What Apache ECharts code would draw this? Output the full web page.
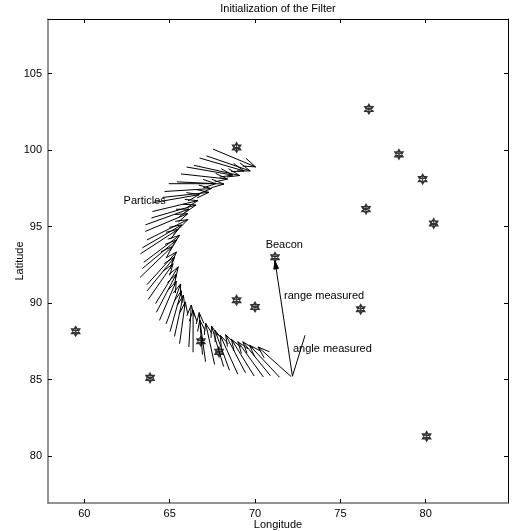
<!DOCTYPE html>
<html>
<head>
    <meta charset="utf-8">
    <title>Initialization of the Filter</title>
    <script src="https://cdn.jsdelivr.net/npm/echarts@6/dist/echarts.min.js"></script>
</head>
<body style="margin:0">
    <div id="main" style="width: 512px;height:531px;"></div>
    <script type="text/javascript">

    // beacons (star markers)
    var beaconLon = [68.92, 76.67, 78.43, 79.82, 76.50, 80.47, 71.17, 68.92, 70.00, 76.19, 59.49, 63.85, 66.83, 67.89, 80.05];
    var beaconLat = [100.18, 102.69, 99.73, 98.11, 96.15, 95.21, 93.00, 90.19, 89.75, 89.60, 88.16, 85.11, 87.51, 86.81, 81.29];

    // particles: position and heading (deg)
    var particleLon = [67.54, 67.15, 66.75, 66.43, 65.99, 65.66, 65.43, 64.94, 64.70, 64.57,
                       64.04, 63.99, 63.93, 63.58, 63.57, 63.66, 63.40, 63.28, 63.48, 63.40,
                       63.27, 63.67, 63.67, 63.74, 64.17, 64.22, 64.40, 64.79, 65.02, 65.28,
                       65.58, 66.12, 66.37, 66.92, 67.10, 67.63, 68.16, 68.50, 68.99, 69.44,
                       69.95, 70.49, 70.90, 71.44, 72.12];
    var particleLat = [100.07, 99.63, 99.49, 99.01, 98.90, 98.45, 97.93, 97.81, 97.30, 96.91,
                       96.57, 95.99, 95.57, 95.12, 94.69, 94.13, 93.62, 93.22, 92.67, 92.26,
                       91.69, 91.21, 90.79, 90.24, 89.97, 89.40, 88.87, 88.64, 88.14, 87.82,
                       87.35, 87.13, 86.79, 86.64, 86.17, 85.99, 85.85, 85.61, 85.35, 85.44,
                       85.23, 85.17, 85.25, 85.15, 85.19];
    var particleHeading = [-25, -21, -18, -14, -11, -7, -3, 0, 4, 7,
                           11, 15, 18, 22, 25, 29, 33, 36, 40, 43,
                           47, 51, 54, 58, 61, 65, 69, 72, 76, 79,
                           83, 87, 90, 94, 97, 101, 105, 108, 112, 115,
                           119, 123, 126, 130, 135];
    var arrowLen = 2.75;

    // robot and measurement lines
    var robotPos = [72.19, 85.22];
    var rangeEnd = [71.17, 92.75];
    var angleEnd = [72.93, 87.90];

    // annotations
    var noteText = ['Particles', 'Beacon', 'range measured', 'angle measured'];
    var noteLon = [62.30, 70.62, 71.70, 72.22];
    var noteLat = [96.67, 93.79, 90.45, 86.98];

    var xTicks = [60, 65, 70, 75, 80];
    var yTicks = [80, 85, 90, 95, 100, 105];
    var xMin = 57.87, xMax = 84.82, yMin = 76.93, yMax = 108.58;

    var font = 'Liberation Sans, Arial, sans-serif';

    var starPath = 'path://M5,0L9.33,7.5L0.67,7.5ZM5,10L0.67,2.5L9.33,2.5ZM5,0L5,10M0.67,2.5L9.33,7.5M0.67,7.5L9.33,2.5';

    var beaconData = [];
    for (var i = 0; i < beaconLon.length; i++) beaconData.push([beaconLon[i], beaconLat[i]]);
    var particleData = [];
    for (var i = 0; i < particleLon.length; i++) particleData.push([particleLon[i], particleLat[i], particleHeading[i]]);
    var noteData = [];
    for (var i = 0; i < noteText.length; i++) noteData.push([noteLon[i], noteLat[i], noteText[i]]);

    function barbs(p0, p1, frac, ang) {
        var dx = p0[0] - p1[0], dy = p0[1] - p1[1];
        var len = Math.sqrt(dx * dx + dy * dy) * frac;
        var a = Math.atan2(dy, dx);
        return [
            [p1[0] + len * Math.cos(a + ang), p1[1] + len * Math.sin(a + ang)],
            p1,
            [p1[0] + len * Math.cos(a - ang), p1[1] + len * Math.sin(a - ang)]
        ];
    }

    function axisX(pos, main) {
        return {
            type: 'value', position: pos, min: xMin, max: xMax,
            name: main ? 'Longitude' : '', nameLocation: 'middle', nameGap: 16, nameMoveOverlap: false,
            nameTextStyle: { fontFamily: font, fontSize: 11, color: '#000' },
            axisLine: { onZero: false, lineStyle: { color: main ? '#707070' : '#000', width: main ? 1.5 : 1 } },
            axisTick: { inside: true, length: 4, customValues: xTicks, lineStyle: { color: '#000' } },
            axisLabel: { show: main, customValues: xTicks, margin: 5, fontFamily: font, fontSize: 11, color: '#000' },
            splitLine: { show: false }
        };
    }
    function axisY(pos, main) {
        return {
            type: 'value', position: pos, min: yMin, max: yMax,
            name: main ? 'Latitude' : '', nameLocation: 'middle', nameGap: 23, nameMoveOverlap: false,
            nameTextStyle: { fontFamily: font, fontSize: 11, color: '#000' },
            axisLine: { onZero: false, lineStyle: { color: main ? '#707070' : '#000', width: main ? 1.5 : 1 } },
            axisTick: { inside: true, length: 4, customValues: yTicks, lineStyle: { color: '#000' } },
            axisLabel: { show: main, customValues: yTicks, margin: 6, fontFamily: font, fontSize: 11, color: '#000' },
            splitLine: { show: false }
        };
    }

    var myChart = echarts.init(document.getElementById('main'));

    var option = {
        backgroundColor: '#fff',
        animation: false,
        title: {
            text: 'Initialization of the Filter',
            left: 278, top: 3, padding: 0, textAlign: 'center',
            textStyle: { fontFamily: font, fontSize: 11, fontWeight: 'normal', color: '#000' }
        },
        grid: { left: 48, right: 4, top: 19, bottom: 28, containLabel: false, outerBoundsMode: 'none' },
        xAxis: [axisX('bottom', true), axisX('top', false)],
        yAxis: [axisY('left', true), axisY('right', false)],
        series: [
            {
                type: 'custom',
                name: 'Particles',
                data: particleData,
                renderItem: function (params, api) {
                    var lon = api.value(0), lat = api.value(1), h = api.value(2) * Math.PI / 180;
                    var p0 = api.coord([lon, lat]);
                    var p1 = api.coord([lon + arrowLen * Math.cos(h), lat + arrowLen * Math.sin(h)]);
                    var style = { stroke: '#000', lineWidth: 1, fill: null };
                    return {
                        type: 'group',
                        children: [
                            { type: 'polyline', shape: { points: [p0, p1] }, style: style },
                            { type: 'polyline', shape: { points: barbs(p0, p1, 0.28, 0.33) }, style: style }
                        ]
                    };
                }
            },
            {
                type: 'scatter',
                name: 'Beacons',
                data: beaconData,
                symbol: starPath,
                symbolSize: 10,
                symbolKeepAspect: true,
                itemStyle: { color: 'rgba(0,0,0,0)', borderColor: '#000', borderWidth: 1.1 },
                z: 3
            },
            {
                type: 'custom',
                name: 'Measurements',
                data: [[robotPos[0], robotPos[1], rangeEnd[0], rangeEnd[1], 1], [robotPos[0], robotPos[1], angleEnd[0], angleEnd[1], 0]],
                renderItem: function (params, api) {
                    var p0 = api.coord([api.value(0), api.value(1)]);
                    var p1 = api.coord([api.value(2), api.value(3)]);
                    var children = [{ type: 'polyline', shape: { points: [p0, p1] }, style: { stroke: '#000', lineWidth: 1, fill: null } }];
                    if (api.value(4)) {
                        var b = barbs(p0, p1, 0.07, 0.3);
                        children.push({ type: 'polygon', shape: { points: b }, style: { fill: '#000', stroke: '#000', lineWidth: 1 } });
                    }
                    return { type: 'group', children: children };
                },
                z: 4
            },
            {
                type: 'custom',
                name: 'Notes',
                data: noteData,
                renderItem: function (params, api) {
                    var p = api.coord([api.value(0), api.value(1)]);
                    return {
                        type: 'text', x: p[0], y: p[1],
                        style: { text: noteText[params.dataIndex], font: '11px ' + font, fill: '#000', align: 'left', verticalAlign: 'middle' }
                    };
                },
                z: 5
            }
        ]
    };

    myChart.setOption(option);

    </script>
</body>
</html>
